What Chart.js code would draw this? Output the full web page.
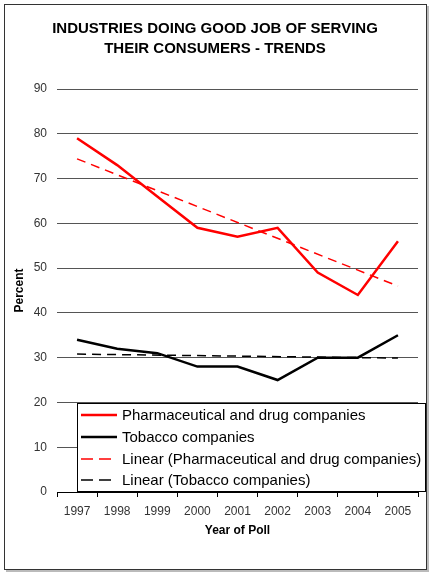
<!DOCTYPE html>
<html>
<head>
<meta charset="utf-8">
<script src="https://cdn.jsdelivr.net/npm/chart.js@4.4.1/dist/chart.umd.min.js"></script>
<style>
html,body{margin:0;padding:0;background:#fff;}
#wrap{width:431px;height:574px;position:relative;}
</style>
</head>
<body>
<div id="wrap"><canvas id="c" width="431" height="574"></canvas></div>
<script>
const years = ['1997','1998','1999','2000','2001','2002','2003','2004','2005'];
const pharma = [79, 73, 66, 59, 57, 59, 49, 44, 56];
const tobacco = [34, 32, 31, 28, 28, 25, 30, 30, 35];
const pharmaTrend = [74.4, null, null, null, null, null, null, null, 46.0];
const tobaccoTrend = [30.8, null, null, null, null, null, null, null, 29.9];
const yTicks = [0, 10, 20, 30, 40, 50, 60, 70, 80, 90];
const titleLines = ['INDUSTRIES DOING GOOD JOB OF SERVING', 'THEIR CONSUMERS - TRENDS'];
const seriesNames = ['Pharmaceutical and drug companies', 'Tobacco companies',
  'Linear (Pharmaceutical and drug companies)', 'Linear (Tobacco companies)'];

const FONT = '"Liberation Sans", Arial, sans-serif';

const decor = {
  id: 'decor',
  beforeDraw(chart) {
    const ctx = chart.ctx;
    ctx.save();
    ctx.fillStyle = '#fff';
    ctx.fillRect(0, 0, chart.width, chart.height);
    ctx.strokeStyle = '#bbb';
    ctx.lineWidth = 2;
    ctx.beginPath();
    ctx.moveTo(428, 6); ctx.lineTo(428, 571); ctx.lineTo(6, 571);
    ctx.stroke();
    ctx.strokeStyle = '#333';
    ctx.lineWidth = 1;
    ctx.strokeRect(4.5, 4.5, 422, 565);
    ctx.fillStyle = '#000';
    ctx.font = 'bold 15px ' + FONT;
    ctx.textAlign = 'center';
    ctx.textBaseline = 'middle';
    ctx.fillText(titleLines[0], 215, 29);
    ctx.fillText(titleLines[1], 215, 49);
    ctx.restore();
  },
  afterDraw(chart) {
    const ctx = chart.ctx;
    const ca = chart.chartArea;
    ctx.save();
    ctx.fillStyle = '#000';
    ctx.font = 'bold 12px ' + FONT;
    ctx.textAlign = 'center';
    ctx.textBaseline = 'middle';
    ctx.fillText('Year of Poll', (ca.left + ca.right) / 2, 531);
    ctx.save();
    ctx.translate(20, (ca.top + ca.bottom) / 2);
    ctx.rotate(-Math.PI / 2);
    ctx.fillText('Percent', 0, 0);
    ctx.restore();
    // legend box
    const lx = 77.5, ly = 403.5, lw = 348, lh = 88;
    ctx.fillStyle = '#fff';
    ctx.fillRect(lx, ly, lw, lh);
    ctx.strokeStyle = '#000';
    ctx.lineWidth = 1;
    ctx.strokeRect(lx, ly, lw, lh);
    const ds = chart.data.datasets;
    const rows = [415, 437, 459, 480];
    ctx.font = '15px ' + FONT;
    ctx.textAlign = 'left';
    for (let i = 0; i < ds.length; i++) {
      const y = rows[i];
      ctx.strokeStyle = ds[i].borderColor;
      ctx.lineWidth = ds[i].borderDash ? 1.5 : 2.5;
      ctx.setLineDash(ds[i].borderDash ? [12, 6] : []);
      ctx.beginPath();
      ctx.moveTo(81, y); ctx.lineTo(117, y);
      ctx.stroke();
      ctx.setLineDash([]);
      ctx.fillStyle = '#000';
      ctx.fillText(ds[i].label, 122, y + 1);
    }
    ctx.restore();
  }
};

new Chart(document.getElementById('c'), {
  type: 'line',
  data: {
    labels: years,
    datasets: [
      { label: seriesNames[0], data: pharma, borderColor: '#ff0000', borderWidth: 2.5, pointRadius: 0, tension: 0, order: 1 },
      { label: seriesNames[1], data: tobacco, borderColor: '#000000', borderWidth: 2.5, pointRadius: 0, tension: 0, order: 2 },
      { label: seriesNames[2], data: pharmaTrend, borderColor: '#ff0000', borderWidth: 1.5, borderDash: [9, 6], pointRadius: 0, spanGaps: true, order: 3 },
      { label: seriesNames[3], data: tobaccoTrend, borderColor: '#000000', borderWidth: 1.5, borderDash: [9, 6], pointRadius: 0, spanGaps: true, order: 4 }
    ]
  },
  options: {
    responsive: false,
    animation: false,
    layout: { padding: { left: 0, right: 13, top: 89, bottom: 0 } },
    plugins: { legend: { display: false }, title: { display: false }, tooltip: { enabled: false } },
    scales: {
      x: {
        type: 'category',
        offset: true,
        afterFit(s) { s.height = 82; },
        grid: { offset: true, drawOnChartArea: false, drawTicks: true, tickLength: 5, color: '#000' },
        border: { display: true, color: '#000', width: 1 },
        ticks: { color: '#333', font: { family: FONT, size: 12 }, padding: 7, maxRotation: 0, autoSkip: false }
      },
      y: {
        min: 0, max: 90,
        afterFit(s) { s.width = 57; },
        afterBuildTicks(s) { s.ticks = yTicks.map(v => ({ value: v })); },
        grid: { color: '#555', lineWidth: 1, drawTicks: false },
        border: { display: false },
        ticks: { color: '#333', font: { family: FONT, size: 12 }, padding: 10 }
      }
    }
  },
  plugins: [decor]
});
</script>
</body>
</html>
